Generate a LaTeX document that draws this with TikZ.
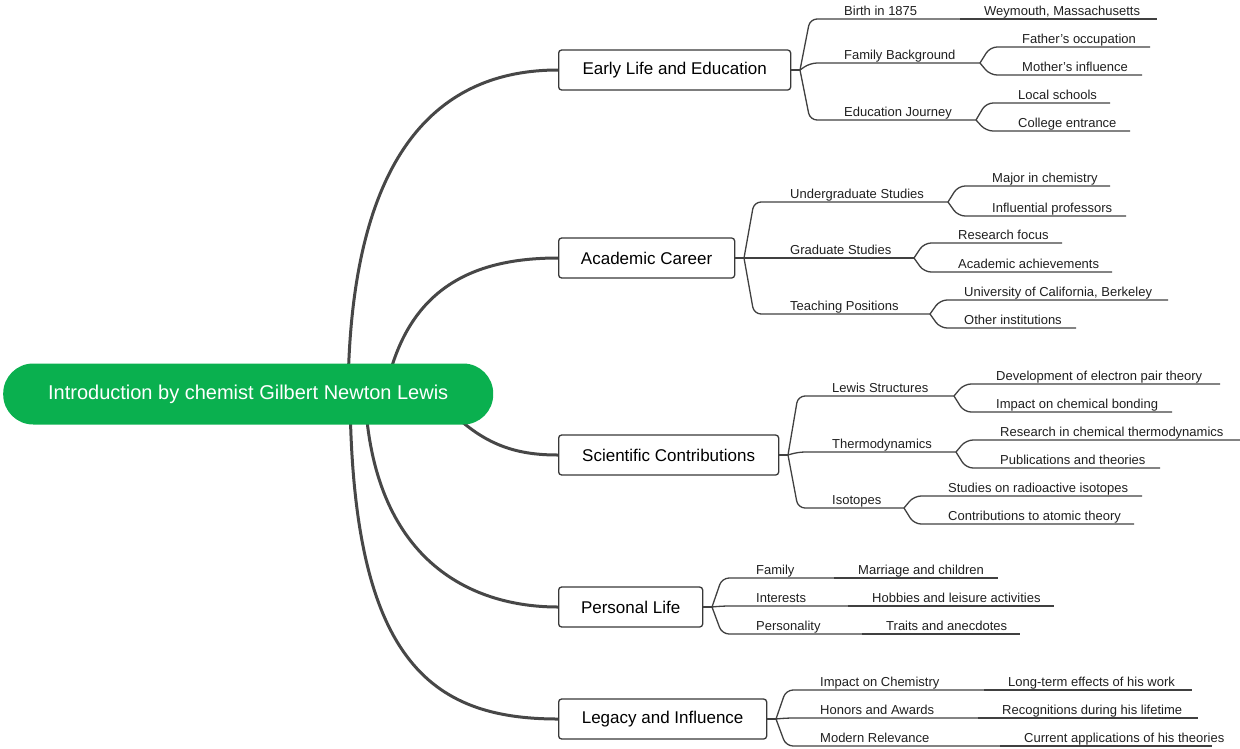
\documentclass[tikz,border=0pt]{standalone}
\usepackage{fontspec}
\setmainfont{Liberation Sans}
\definecolor{rootgreen}{HTML}{0AB04F}
\begin{document}
\begin{tikzpicture}[x=1pt,y=-1pt,
  main/.style={line width=3pt,draw=black!72},
  thin/.style={line width=1.3pt,draw=black!75},
  l1/.style={draw=black!78,line width=1.3pt,rounded corners=3pt,minimum height=40pt,anchor=west,inner xsep=0pt,font=\fontsize{17}{20}\selectfont},
  lbl/.style={anchor=base west,inner sep=0pt,font=\fontsize{13}{15}\selectfont,text=black!88}]
\useasboundingbox (0,0) rectangle (1240,748);
% #1 name, #2 jx, #3 jy, #4 uly, #5 ulend, #6 text offset, #7 text
\newcommand\sub[7]{\draw[thin,rounded corners=7pt] (#2,#3) -- (#2+10,#4) -- (#5,#4);
  \node[lbl] (#1) at (#2+#6,#4-4) {#7};}
% single leaf: #1 name #2 startx #3 uly #4 end #5 text
\newcommand\leaf[5]{\draw[thin] (#2,#3) -- (#4,#3); \node[lbl] (#1) at (#2+24,#3-4) {#5};}
% root connectors
\draw[main] (348,394) .. controls (350,150) and (440,70) .. (558,70);
\draw[main] (385,394) .. controls (405,290) and (470,258) .. (558,258);
\draw[main] (440,400) .. controls (480,445) and (515,455) .. (558,455);
\draw[main] (365,394) .. controls (372,560) and (470,607) .. (558,607);
\draw[main] (350,394) .. controls (352,660) and (430,719) .. (558,719);
\node[fill=rootgreen,rounded corners=30pt,minimum width=490pt,minimum height=61pt,inner xsep=0pt,anchor=west,text=white,font=\fontsize{20}{24}\selectfont] (root) at (3,394) {Introduction by chemist Gilbert Newton Lewis};
% level 1
\node[l1,minimum width=232pt] (e) at (558,70) {Early Life and Education};
\node[l1,minimum width=176pt] (a) at (558,258) {Academic Career};
\node[l1,minimum width=220pt] (s) at (558,455) {Scientific Contributions};
\node[l1,minimum width=144pt] (p) at (558,607) {Personal Life};
\node[l1,minimum width=208pt] (g) at (558,719) {Legacy and Influence};
\draw[thin] (e.east) -- (800,70);
\draw[thin] (a.east) -- (744,258);
\draw[thin] (s.east) -- (788,455);
\draw[thin] (p.east) -- (712,607);
\draw[thin] (g.east) -- (776,719);
% Early life
\sub{e1}{800}{70}{19}{960}{44}{Birth in 1875}
\leaf{e1a}{960}{19}{1157}{Weymouth, Massachusetts}
\sub{e2}{800}{70}{63}{980}{44}{Family Background}
\sub{e2a}{980}{63}{47}{1150}{42}{Father's occupation}
\sub{e2b}{980}{63}{75}{1142}{42}{Mother's influence}
\sub{e3}{800}{70}{120}{976}{44}{Education Journey}
\sub{e3a}{976}{120}{103}{1110}{42}{Local schools}
\sub{e3b}{976}{120}{131}{1130}{42}{College entrance}
% Academic
\sub{a1}{744}{258}{202}{948}{46}{Undergraduate Studies}
\sub{a1a}{948}{202}{186}{1110}{44}{Major in chemistry}
\sub{a1b}{948}{202}{216}{1126}{44}{Influential professors}
\sub{a2}{744}{258}{258}{914}{46}{Graduate Studies}
\sub{a2a}{914}{258}{243}{1062}{44}{Research focus}
\sub{a2b}{914}{258}{272}{1112}{44}{Academic achievements}
\sub{a3}{744}{258}{314}{930}{46}{Teaching Positions}
\sub{a3a}{930}{314}{300}{1168}{34}{University of California, Berkeley}
\sub{a3b}{930}{314}{328}{1076}{34}{Other institutions}
% Scientific
\sub{s1}{788}{455}{396}{954}{44}{Lewis Structures}
\sub{s1a}{954}{396}{384}{1220}{42}{Development of electron pair theory}
\sub{s1b}{954}{396}{412}{1172}{42}{Impact on chemical bonding}
\sub{s2}{788}{455}{452}{956}{44}{Thermodynamics}
\sub{s2a}{956}{452}{440}{1240}{44}{Research in chemical thermodynamics}
\sub{s2b}{956}{452}{468}{1160}{44}{Publications and theories}
\sub{s3}{788}{455}{508}{904}{44}{Isotopes}
\sub{s3a}{904}{508}{496}{1142}{44}{Studies on radioactive isotopes}
\sub{s3b}{904}{508}{524}{1134}{44}{Contributions to atomic theory}
% Personal
\sub{p1}{712}{607}{578}{834}{44}{Family}
\leaf{p1a}{834}{578}{998}{Marriage and children}
\sub{p2}{712}{607}{606}{848}{44}{Interests}
\leaf{p2a}{848}{606}{1054}{Hobbies and leisure activities}
\sub{p3}{712}{607}{634}{862}{44}{Personality}
\leaf{p3a}{862}{634}{1020}{Traits and anecdotes}
% Legacy
\sub{g1}{776}{719}{690}{984}{44}{Impact on Chemistry}
\leaf{g1a}{984}{690}{1192}{Long-term effects of his work}
\sub{g2}{776}{719}{718}{978}{44}{Honors and Awards}
\leaf{g2a}{978}{718}{1198}{Recognitions during his lifetime}
\sub{g3}{776}{719}{746}{1000}{44}{Modern Relevance}
\leaf{g3a}{1000}{746}{1212}{Current applications of his theories}
\end{tikzpicture}
\end{document}
